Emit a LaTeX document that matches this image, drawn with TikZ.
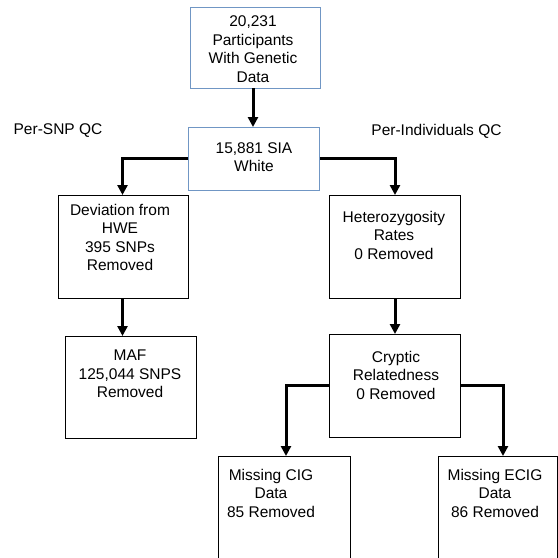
\documentclass[tikz,border=0pt]{standalone}
\usepackage{fontspec}
\setmainfont{Liberation Sans}
\usetikzlibrary{arrows.meta}
\definecolor{boxblue}{HTML}{7096C4}
\tikzset{
  box/.style={draw=black, line width=0.9pt, fill=white, inner sep=0pt, anchor=north west},
  bluebox/.style={box, draw=boxblue},
  txt/.style={align=center, inner sep=0pt, font=\fontsize{15.5}{18.5}\selectfont},
  conn/.style={line width=3pt, -{Triangle[length=10pt,width=10pt]}},
}
\begin{document}
\begin{tikzpicture}[x=1pt,y=-1pt]
\useasboundingbox (0,0) rectangle (558,558);
\clip (0,0) rectangle (558,558);
\fill[white] (0,0) rectangle (558,558);
% boxes
\node[bluebox, minimum width=130pt, minimum height=81pt] (top) at (190,7) {};
\node[bluebox, minimum width=131pt, minimum height=63pt] (sia) at (188,127) {};
\node[box, minimum width=130pt, minimum height=103pt] (dev) at (58,195) {};
\node[box, minimum width=131pt, minimum height=102pt] (maf) at (65,336) {};
\node[box, minimum width=131pt, minimum height=103pt] (het) at (329,195) {};
\node[box, minimum width=131pt, minimum height=103pt] (cry) at (329,334) {};
\node[box, minimum width=132pt, minimum height=140pt] (cig) at (218,456) {};
\node[box, minimum width=119pt, minimum height=140pt] (ecig) at (438,456) {};
% texts
\node[txt] (ttop) at (253,49) {20,231\\Participants\\With Genetic\\Data};
\node[txt] (tsia) at (254,157) {15,881 SIA\\White};
\node[txt, anchor=north] (tdev) at (120,204) {Deviation from\\HWE\\395 SNPs\\Removed};
\node[txt, anchor=north] (tmaf) at (130,350) {MAF\\125,044 SNPS\\Removed};
\node[txt, anchor=north] (thet) at (394,211) {Heterozygosity\\Rates\\0 Removed};
\node[txt, anchor=north] (tcry) at (396,351) {Cryptic\\Relatedness\\0 Removed};
\node[txt, anchor=north] (tcig) at (271,469) {Missing CIG\\Data\\85 Removed};
\node[txt, anchor=north] (tecig) at (495,469) {Missing ECIG\\Data\\86 Removed};
\node[txt] (snp) at (58,131) {Per-SNP QC};
\node[txt] (ind) at (436.5,131) {Per-Individuals QC};
% connectors
\coordinate (a1) at (253,88);
\draw[conn] (a1) -- (a1 |- sia.north);
\coordinate (ldev) at (122.5,0);
\draw[conn] (sia.west) -| (ldev |- dev.north);
\coordinate (lhet) at (395,0);
\draw[conn] (sia.east) -| (lhet |- het.north);
\draw[conn] (dev.south -| ldev) -- (ldev |- maf.north);
\draw[conn] (het.south -| lhet) -- (lhet |- cry.north);
\coordinate (lcig) at (286,0);
\coordinate (lecig) at (503,0);
\draw[conn] (cry.west) -| (lcig |- cig.north);
\draw[conn] (cry.east) -| (lecig |- ecig.north);
\end{tikzpicture}
\end{document}
